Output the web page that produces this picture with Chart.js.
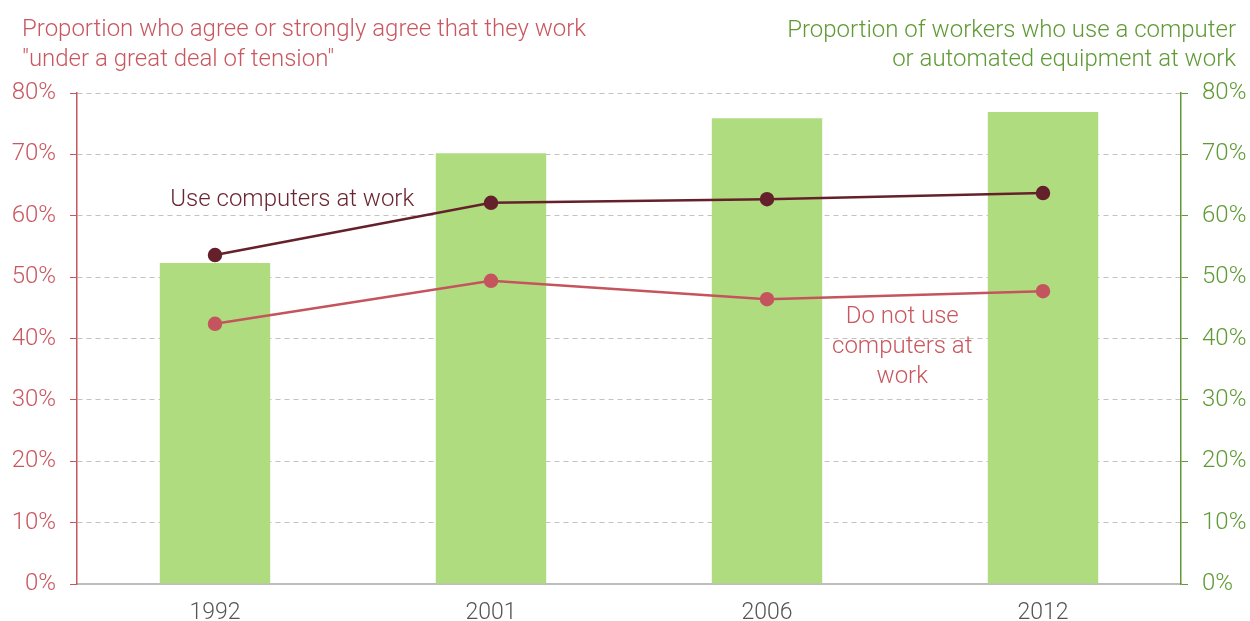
<!DOCTYPE html>
<html>
<head>
<meta charset="utf-8">
<script src="https://cdn.jsdelivr.net/npm/chart.js@4"></script>
<style>
  html, body { margin: 0; padding: 0; background: #fff; }
  #wrap { width: 1250px; height: 621px; }
</style>
</head>
<body>
<div id="wrap"><canvas id="chart" width="1250" height="621"></canvas></div>
<script>
const years = ['1992', '2001', '2006', '2012'];
const computerUse = [52.3, 70.2, 75.9, 76.9];      // bars, right axis
const tensionUsers = [53.6, 62.1, 62.7, 63.7];     // line, left axis
const tensionNonUsers = [42.4, 49.4, 46.4, 47.7];  // line, left axis
const leftTitle = ['Proportion who agree or strongly agree that they work', '"under a great deal of tension"'];
const rightTitle = ['Proportion of workers who use a computer', 'or automated equipment at work'];

const RED = '#c9575f';
const GREEN = '#5f9a35';
const FONT = 'Roboto, "Liberation Sans", sans-serif';

// titles above each axis and the inline series labels
const textPlugin = {
  id: 'texts',
  afterDraw(chart) {
    const { ctx, scales } = chart;
    ctx.save();
    ctx.font = '300 24px ' + FONT;
    ctx.textBaseline = 'alphabetic';

    ctx.fillStyle = RED;
    ctx.textAlign = 'left';
    ctx.fillText(leftTitle[0], 22, 36);
    ctx.fillText(leftTitle[1], 22, 66);

    ctx.fillStyle = GREEN;
    ctx.textAlign = 'right';
    ctx.fillText(rightTitle[0], 1236, 37);
    ctx.fillText(rightTitle[1], 1236, 66);

    ctx.textAlign = 'center';
    ctx.textBaseline = 'middle';
    ctx.fillStyle = '#6b2530';
    ctx.fillText('Use computers at work', scales.x.getPixelForValue(0.28), scales.y.getPixelForValue(62.5));

    ctx.fillStyle = RED;
    const nx = scales.x.getPixelForValue(2.49);
    ['Do not use', 'computers at', 'work'].forEach((t, i) => {
      ctx.fillText(t, nx, scales.y.getPixelForValue(43.5) + i * 30);
    });
    ctx.restore();
  }
};

new Chart(document.getElementById('chart'), {
  data: {
    labels: years,
    datasets: [
      {
        type: 'line',
        label: 'Use computers at work',
        data: tensionUsers,
        yAxisID: 'y',
        borderColor: '#65212b',
        backgroundColor: '#65212b',
        borderWidth: 2.5,
        pointRadius: 6,
        pointHoverRadius: 6,
        order: 1
      },
      {
        type: 'line',
        label: 'Do not use computers at work',
        data: tensionNonUsers,
        yAxisID: 'y',
        borderColor: '#c4545d',
        backgroundColor: '#c4545d',
        borderWidth: 2.5,
        pointRadius: 6,
        pointHoverRadius: 6,
        order: 2
      },
      {
        type: 'bar',
        label: 'Computer use',
        data: computerUse,
        yAxisID: 'y1',
        backgroundColor: '#b0dc80',
        barPercentage: 0.4,
        categoryPercentage: 1,
        order: 3
      }
    ]
  },
  options: {
    responsive: false,
    animation: false,
    layout: { padding: { top: 93, left: 0, right: 0, bottom: 0 } },
    plugins: { legend: { display: false }, tooltip: { enabled: false } },
    scales: {
      x: {
        offset: true,
        grid: { display: false },
        border: { color: '#bdbdbd', width: 2 },
        ticks: { color: '#555', font: { family: FONT, size: 23, weight: 300 }, padding: 7 },
        afterFit: s => { s.height = 37; }
      },
      y: {
        position: 'left',
        min: 0, max: 80,
        grid: { color: '#c2c2c2', tickColor: RED, tickLength: 7, tickBorderDash: [] },
        border: { color: RED, width: 1.5, dash: [5, 4] },
        ticks: {
          stepSize: 10, color: RED, padding: 14,
          font: { family: FONT, size: 24, weight: 300 },
          callback: v => v + '%'
        },
        afterFit: s => { s.width = 77; }
      },
      y1: {
        position: 'right',
        min: 0, max: 80,
        grid: { drawOnChartArea: false, tickColor: GREEN, tickLength: 7 },
        border: { color: GREEN, width: 1.5 },
        ticks: {
          stepSize: 10, color: GREEN, padding: 14,
          font: { family: FONT, size: 24, weight: 300 },
          callback: v => v + '%'
        },
        afterFit: s => { s.width = 69; }
      }
    }
  },
  plugins: [textPlugin]
});
</script>
</body>
</html>
